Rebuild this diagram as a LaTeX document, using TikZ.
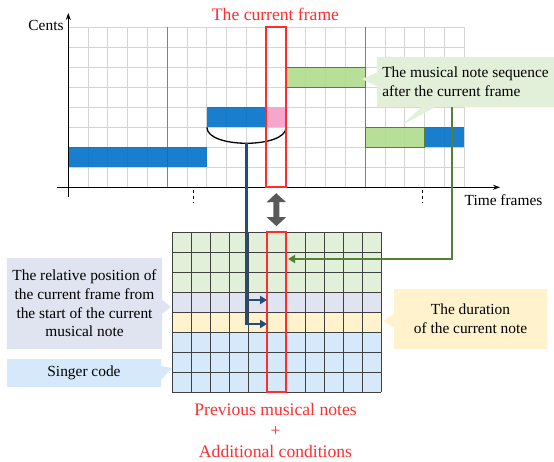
\documentclass[tikz,border=0pt]{standalone}
\usepackage{fontspec}
\setmainfont{Liberation Serif}
\usetikzlibrary{arrows.meta,positioning,shapes.callouts,calc}

\definecolor{noteblue}{HTML}{0070C8}
\definecolor{notepink}{HTML}{F4A6CC}
\definecolor{notegreen}{HTML}{B0DC8C}
\definecolor{greenedge}{HTML}{548235}
\definecolor{posblue}{HTML}{1F4E79}
\definecolor{seqfill}{HTML}{E2F0D9}
\definecolor{relfill}{HTML}{E0E4F0}
\definecolor{durfill}{HTML}{FFF2CC}
\definecolor{singfill}{HTML}{D6E9FA}
\definecolor{framered}{HTML}{FF2D2D}
\definecolor{swapgray}{HTML}{595959}

\begin{document}
\begin{tikzpicture}[x=1pt, y=-1pt, align=center, font=\fontsize{15.4}{18.7}\selectfont,
  redtext/.style={text=framered, font=\fontsize{17.6}{21}\selectfont},
  redframe/.style={draw=framered, line width=1.8pt, inner sep=0pt},
  gridline/.style={draw=black!17, line width=0.9pt},
  cellline/.style={draw=black!75, line width=0.8pt},
  axis/.style={line width=1.2pt, -{Stealth[length=7pt,width=5pt]}},
  callbox/.style={rectangle callout, fill=#1, inner sep=5.5pt, callout pointer width=14pt},
  posline/.style={draw=posblue, line width=2.2pt, -{Triangle[length=7pt,width=8pt]}},
  seqline/.style={draw=greenedge, line width=2.2pt, -{Triangle[length=7pt,width=8pt]}},
  swap/.style={draw=swapgray, line width=6pt, {Triangle[length=9pt,width=19pt]}-{Triangle[length=9pt,width=19pt]}, shorten >=5pt, shorten <=5pt}]
\useasboundingbox (0,0) rectangle (554,461);

% ------------------------------- pitch chart
\foreach \i in {0,...,20}
  \draw[gridline] ({68.3+19.8*\i},27.3) -- ({68.3+19.8*\i},187.3);
\foreach \j in {0,...,7}
  \draw[gridline] (68.3,{27.3+20*\j}) -- (464.3,{27.3+20*\j});
\foreach \i in {5,15}
  \draw[gridline, draw=black!50] ({68.3+19.8*\i},27.3) -- ({68.3+19.8*\i},187.3);

\fill[noteblue, fill opacity=.9] (68.3,147.3) rectangle (206.9,167.3);
\fill[noteblue, fill opacity=.9] (206.9,107.3) rectangle (266.3,127.3);
\fill[notepink] (266.3,107.3) rectangle (286.1,127.3);
\fill[noteblue, fill opacity=.9] (424.7,127.3) rectangle (464.3,147.3);
\filldraw[fill=notegreen, fill opacity=.9, draw=greenedge, line width=1.2pt] (286.1,67.3) rectangle (365.3,87.3);
\filldraw[fill=notegreen, fill opacity=.9, draw=greenedge, line width=1.2pt] (365.3,127.3) rectangle (424.7,147.3);

\draw[axis] (68.3,197) -- (68.3,13);
\draw[axis] (57,187.3) -- (500,187.3);
\foreach \x in {193,422}
  \draw[dashed, thin] (\x,190) -- (\x,203);

\node (cents) [anchor=base] at (46,30) {Cents};
\node (timeaxis) [anchor=base] at (503.5,205) {Time frames};

\draw[line width=1.3pt] (206.9,127.3) .. controls (206.9,148.6) and (286.1,148.6) .. (286.1,127.3);
\coordinate (arcbot) at (246.5,143.3);

\node (curframe) [redframe, minimum width=19.8pt, minimum height=160pt] at (276.2,107.3) {};
\node (curlabel) [redtext, anchor=base] at (275.5,20.7) {The current frame};

% ------------------------------- input features
\fill[seqfill] (172,232) rectangle (381,292);
\fill[relfill] (172,292) rectangle (381,312);
\fill[durfill] (172,312) rectangle (381,332);
\fill[singfill] (172,332) rectangle (381,392);
\foreach \i in {0,...,11}
  \draw[cellline] ({172+19*\i},232) -- ({172+19*\i},392);
\foreach \j in {0,...,8}
  \draw[cellline] (172,{232+20*\j}) -- (381,{232+20*\j});

\node (lowframe) [redframe, minimum width=19pt, minimum height=160pt] at (276.5,312) {};
\node (prevlabel) [redtext, anchor=base] at (275.5,457) {Previous musical notes\\+\\Additional conditions};

\draw[swap] (curframe.south) -- (lowframe.north);

% ------------------------------- callouts
\node (seqnote2) [callbox=seqfill, minimum width=177pt, minimum height=50pt, callout absolute pointer={(362,79)}] at (465.5,82) {};
\node (seqnote) [callbox=seqfill, minimum width=177pt, minimum height=50pt, align=left, callout absolute pointer={(402,125)}] at (465.5,82) {The musical note sequence\\after the current frame};
\node (relpos) [callbox=relfill, minimum width=153pt, minimum height=91pt, callout absolute pointer={(171,307)}] at (84.5,303.5) {The relative position of\\the current frame from\\the start of the current\\musical note};
\node (singer) [callbox=singfill, minimum width=154pt, minimum height=28pt, callout absolute pointer={(172,368)}] at (84,373) {Singer code};
\node (duration) [callbox=durfill, minimum width=153pt, minimum height=60pt, callout absolute pointer={(383,321)}] at (470.5,319) {The duration\\of the current note};

\coordinate (relin) at (267,300);
\coordinate (durin) at (267,324);
\draw[posline] (arcbot) |- (relin);
\draw[posline] (arcbot) |- (durin);

\coordinate (seqfoot) at (452,107);
\coordinate (seqin) at (288,259);
\draw[seqline] (seqfoot) |- (seqin);
\end{tikzpicture}
\end{document}
